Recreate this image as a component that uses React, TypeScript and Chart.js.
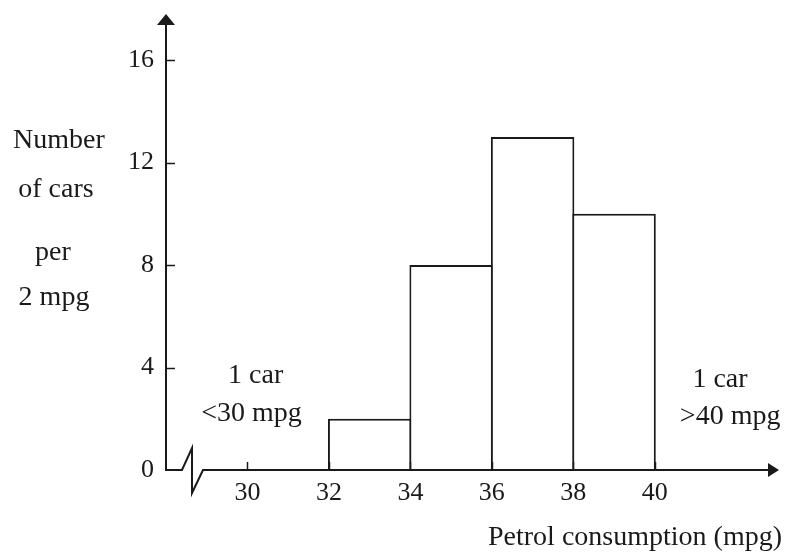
import React, { useEffect, useRef } from "react";
import { Chart, registerables } from "chart.js";

Chart.register(...registerables);

// ---- data ----
const binStarts = [32, 34, 36, 38];
const binWidth = 2;
const carCounts = [2, 8, 13, 10];
const xTickValues = [30, 32, 34, 36, 38, 40];
const yTickValues = [0, 4, 8, 12, 16];
const xRange = [28, 43];
const yRange = [0, 17.8];
const yAxisTitleLines = ["Number", "of cars", "per", "2 mpg"];
const xAxisTitle = "Petrol consumption (mpg)";
const lowNote = ["1 car", "<30 mpg"];
const highNote = ["1 car", ">40 mpg"];

const ink = "#1a1a1a";
const serif = '"Liberation Serif", "DejaVu Serif", serif';

const decorPlugin = {
  id: "decor",
  afterDraw(chart: any) {
    const { ctx, chartArea, scales } = chart;
    const xs = scales.x;
    const ys = scales.y;
    const x0 = chartArea.left;
    const y0 = ys.getPixelForValue(0);
    ctx.save();
    ctx.strokeStyle = ink;
    ctx.fillStyle = ink;
    ctx.lineWidth = 2;
    ctx.lineJoin = "miter";

    // y axis line + arrow
    ctx.beginPath();
    ctx.moveTo(x0, y0 + 1);
    ctx.lineTo(x0, chartArea.top + 10);
    ctx.stroke();
    ctx.beginPath();
    ctx.moveTo(x0, chartArea.top);
    ctx.lineTo(x0 - 9, chartArea.top + 11);
    ctx.lineTo(x0 + 9, chartArea.top + 11);
    ctx.closePath();
    ctx.fill();

    // x axis with break + arrow
    ctx.beginPath();
    ctx.moveTo(x0 - 1, y0);
    ctx.lineTo(x0 + 16, y0);
    ctx.lineTo(x0 + 26, y0 - 22);
    ctx.lineTo(x0 + 26, y0 + 23);
    ctx.lineTo(x0 + 37, y0);
    ctx.lineTo(chartArea.right - 8, y0);
    ctx.stroke();
    const tip = chartArea.right + 2;
    ctx.beginPath();
    ctx.moveTo(tip, y0);
    ctx.lineTo(tip - 11, y0 - 7);
    ctx.lineTo(tip - 11, y0 + 7);
    ctx.closePath();
    ctx.fill();

    // inward tick marks
    ctx.lineWidth = 1.5;
    yTickValues.forEach((v) => {
      if (v === 0) return;
      const py = Math.round(ys.getPixelForValue(v)) + 0.5;
      ctx.beginPath();
      ctx.moveTo(x0, py);
      ctx.lineTo(x0 + 9, py);
      ctx.stroke();
    });
    xTickValues.forEach((v) => {
      const px = Math.round(xs.getPixelForValue(v)) + 0.5;
      ctx.beginPath();
      ctx.moveTo(px, y0);
      ctx.lineTo(px, y0 - 8);
      ctx.stroke();
    });

    // texts
    ctx.font = `28px ${serif}`;
    ctx.textAlign = "center";
    ctx.textBaseline = "alphabetic";
    const yTitlePos = [
      [59, 148],
      [56, 197],
      [53, 260],
      [54, 305],
    ];
    yAxisTitleLines.forEach((t, i) => ctx.fillText(t, yTitlePos[i][0], yTitlePos[i][1]));
    ctx.fillText(xAxisTitle, 635, 545);

    ctx.fillText(lowNote[0], xs.getPixelForValue(30.2), ys.getPixelForValue(3.4));
    ctx.fillText(lowNote[1], xs.getPixelForValue(30.1), ys.getPixelForValue(1.92));
    ctx.fillText(highNote[0], xs.getPixelForValue(41.6), ys.getPixelForValue(3.24));
    ctx.fillText(highNote[1], xs.getPixelForValue(41.85), ys.getPixelForValue(1.8));
    ctx.restore();
  },
};

export default function App() {
  const canvasRef = useRef<HTMLCanvasElement | null>(null);

  useEffect(() => {
    if (!canvasRef.current) return;
    const chart = new Chart(canvasRef.current, {
      type: "bar",
      data: {
        datasets: [
          {
            data: binStarts.map((s, i) => ({ x: s + binWidth / 2, y: carCounts[i] })),
            backgroundColor: "#ffffff",
            borderColor: ink,
            borderWidth: 2,
            borderSkipped: "bottom",
            barPercentage: 1.0245,
            categoryPercentage: 1,
            grouped: false,
          } as any,
        ],
      },
      options: {
        responsive: false,
        animation: false,
        layout: { padding: { top: 14, right: 16, left: 0, bottom: 0 } },
        plugins: { legend: { display: false }, tooltip: { enabled: false } },
        scales: {
          x: {
            type: "linear",
            min: xRange[0],
            max: xRange[1],
            offset: false,
            grid: { display: false },
            border: { display: false },
            afterBuildTicks: (s: any) => {
              s.ticks = xTickValues.map((v) => ({ value: v }));
            },
            afterFit: (s: any) => {
              s.height = 82;
              s.paddingLeft = 0;
              s.paddingRight = 0;
            },
            ticks: {
              padding: 0,
              maxRotation: 0,
              autoSkip: false,
              color: ink,
              font: { family: serif, size: 26 },
            },
          },
          y: {
            type: "linear",
            min: yRange[0],
            max: yRange[1],
            grid: { display: false, drawTicks: false },
            border: { display: false },
            afterBuildTicks: (s: any) => {
              s.ticks = yTickValues.map((v) => ({ value: v }));
            },
            afterFit: (s: any) => {
              s.width = 166;
              s.paddingTop = 0;
              s.paddingBottom = 0;
            },
            ticks: {
              padding: 12,
              color: ink,
              font: { family: serif, size: 26 },
            },
          },
        },
      } as any,
      plugins: [decorPlugin],
    });
    return () => chart.destroy();
  }, []);

  return (
    <div style={{ position: "absolute", left: 0, top: 0, width: 793, height: 552, background: "#fff" }}>
      <canvas ref={canvasRef} width={793} height={552} style={{ width: 793, height: 552, display: "block" }} />
    </div>
  );
}
